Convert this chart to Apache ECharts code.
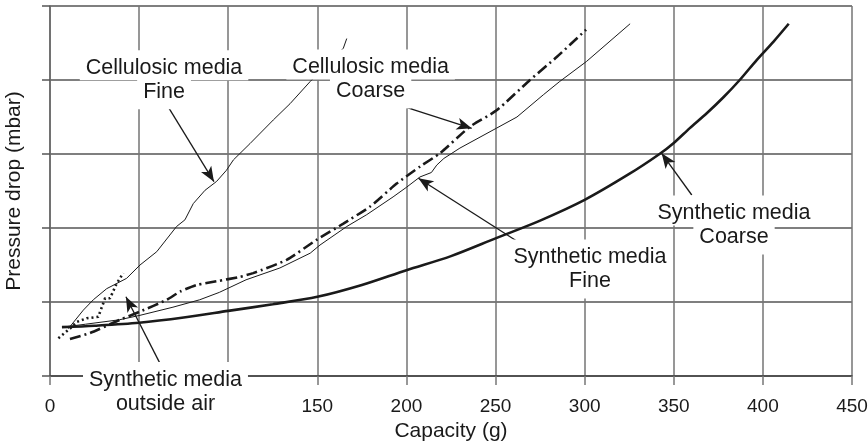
<!DOCTYPE html>
<html><head><meta charset="utf-8">
<script src="https://cdn.jsdelivr.net/npm/echarts@6/dist/echarts.min.js"></script>
<style>html,body{margin:0;padding:0;background:#fff}#c{width:868px;height:441px}</style>
</head><body><div id="c"></div>
<script>
// ---- data (capacity g, pressure drop in grid units) ----
const xMin = 0, xMax = 450, xStep = 50;
const yMin = 0, yMax = 5, yStep = 1;

const cellulosicFine = [[10.3,0.64],[18.7,0.89],[24.3,1.03],[31.8,1.18],[43,1.32],[50.5,1.5],[59.9,1.68],[71,2.02],[75.7,2.11],[80.4,2.33],[87,2.51],[93.5,2.63],[99,2.78],[102.9,2.92],[112.2,3.14],[125.3,3.46],[134.7,3.68],[146,3.98],[164.6,4.43],[166.5,4.56]];
const cellulosicCoarse = [[11.2,0.50],[22.4,0.58],[39.3,0.76],[50.5,0.87],[65.5,1.03],[73,1.14],[82.3,1.23],[93.5,1.28],[106.6,1.34],[114,1.39],[132.8,1.57],[149.6,1.84],[164.6,2.06],[179.6,2.29],[194.5,2.60],[207.6,2.83],[218.8,3.01],[235.7,3.37],[250.6,3.59],[269.3,4.0],[284.3,4.31],[300.8,4.68]];
const syntheticFine = [[7,0.66],[20,0.70],[39,0.76],[50.5,0.82],[69,0.93],[84,1.03],[95,1.13],[110,1.30],[129,1.46],[146,1.66],[151.5,1.77],[166.5,2.02],[177.7,2.18],[192.5,2.42],[200,2.55],[207.6,2.69],[214,2.75],[217,2.85],[221,2.94],[230,3.08],[250.6,3.35],[262,3.50],[276.8,3.80],[286,3.98],[301,4.25],[325.5,4.76]];
const syntheticCoarse = [[6.7,0.66],[25,0.68],[50,0.72],[75,0.79],[100,0.88],[125,0.97],[150,1.07],[175,1.23],[200,1.43],[225,1.62],[250,1.86],[275,2.10],[300,2.38],[325,2.73],[342,3.0],[350,3.15],[359,3.35],[368.5,3.55],[378,3.77],[387,4.0],[396.5,4.27],[406,4.52],[414.5,4.76]];
const syntheticOutsideAir = [[4.7,0.51],[11.2,0.64],[15,0.73],[20.6,0.78],[27.1,0.80],[30.9,1.05],[33.7,1.05],[37.4,1.25],[41.1,1.39]];

// annotation texts, anchors (data coords) and arrows
const labelTexts = [['Cellulosic media','Fine'],['Cellulosic media','Coarse'],['Synthetic media','Fine'],['Synthetic media','Coarse'],['Synthetic media','outside air']];
const labelAnchors = [[64.0,3.995],[179.9,4.008],[303.0,1.44],[383.8,2.035],[64.8,0]];
const arrowLines = [
  [[65.1,3.685],[92.0,2.626]],
  [[197.3,3.649],[236.6,3.347]],
  [[265.4,1.77],[206.7,2.672]],
  [[360.1,2.446],[343.2,3.009]],
  [[61.7,0.171],[42.6,1.07]]
];

const FONT = 'Liberation Sans, Arial, Helvetica, sans-serif';
const INK = '#1a1a1a';

const chart = echarts.init(document.getElementById('c'), null, {renderer:'canvas'});

// second lines first, so first-line text stays above the second-line white box
const secondLines = labelTexts.map((t, i) => ({
  coord: labelAnchors[i],
  label: {formatter: '{' + (i === 4 ? 'w' : 'b') + '|' + t[1] + '}', offset: [0, (i === 4 ? 16 : 0) + 12]}
}));
const firstLines = labelTexts.map((t, i) => ({
  coord: labelAnchors[i],
  label: {formatter: '{a|' + t[0] + '}', offset: [0, (i === 4 ? 16 : 0) - 15]}
}));
const markPointData = secondLines.concat(firstLines);

const markLineData = arrowLines.map(a => [{coord: a[0]}, {coord: a[1]}]);

const txt = {fontSize: 21.5, fontFamily: FONT, color: INK, backgroundColor: '#fff'};

const option = {
  animation: false,
  backgroundColor: '#fff',
  grid: {left: 50, right: 16, top: 6, bottom: 65, containLabel: false, outerBoundsMode: 'none'},
  xAxis: {
    type: 'value', min: xMin, max: xMax, interval: xStep,
    name: 'Capacity (g)', nameLocation: 'middle', nameGap: 44,
    nameTextStyle: {fontSize: 21, color: INK, fontFamily: FONT},
    axisLine: {show: true, lineStyle: {color: '#444', width: 1.5}},
    axisTick: {show: true, length: 9, lineStyle: {color: '#777', width: 1.5}},
    axisLabel: {fontSize: 19, color: INK, fontFamily: FONT, margin: 21},
    splitLine: {show: true, lineStyle: {color: '#757575', width: 1.5}}
  },
  yAxis: {
    type: 'value', min: yMin, max: yMax, interval: yStep,
    name: 'Pressure drop (mbar)', nameLocation: 'middle', nameGap: 25,
    nameTextStyle: {fontSize: 21, color: INK, fontFamily: FONT},
    axisLine: {show: true, lineStyle: {color: '#666', width: 1.5}},
    axisTick: {show: true, length: 8, lineStyle: {color: '#555', width: 1.5}},
    axisLabel: {show: false},
    splitLine: {show: true, lineStyle: {color: '#555', width: 1.5}}
  },
  series: [
    {
      name: 'Cellulosic media Fine', type: 'line', data: cellulosicFine,
      symbol: 'none', lineStyle: {color: INK, width: 1}, z: 3,
      markPoint: {
        z: 10, symbol: 'circle', symbolSize: 1, silent: true,
        itemStyle: {color: 'rgba(0,0,0,0)'},
        label: {
          show: true, position: 'inside', color: INK,
          rich: {
            a: Object.assign({}, txt, {padding: [7, 6, 1, 6]}),
            b: Object.assign({}, txt, {padding: [6, 6, 6, 6]}),
            w: Object.assign({}, txt, {padding: [6, 30, 6, 30]})
          }
        },
        data: markPointData
      },
      markLine: {
        silent: true, symbol: ['none', 'arrow'], symbolSize: [9, 15],
        lineStyle: {color: INK, width: 1.3, type: 'solid'},
        label: {show: false},
        data: markLineData
      }
    },
    {
      name: 'Cellulosic media Coarse', type: 'line', data: cellulosicCoarse,
      symbol: 'none', smooth: 0.2, lineStyle: {color: INK, width: 2.6, type: [11, 4, 2, 4]}, z: 3
    },
    {
      name: 'Synthetic media Fine', type: 'line', data: syntheticFine,
      symbol: 'none', lineStyle: {color: INK, width: 1}, z: 3
    },
    {
      name: 'Synthetic media Coarse', type: 'line', data: syntheticCoarse,
      symbol: 'none', smooth: 0.3, lineStyle: {color: INK, width: 2.6}, z: 3
    },
    {
      name: 'Synthetic media outside air', type: 'line', data: syntheticOutsideAir,
      symbol: 'none', lineStyle: {color: INK, width: 2.6, type: [2, 3]}, z: 3
    }
  ]
};
chart.setOption(option);
</script>
</body></html>
